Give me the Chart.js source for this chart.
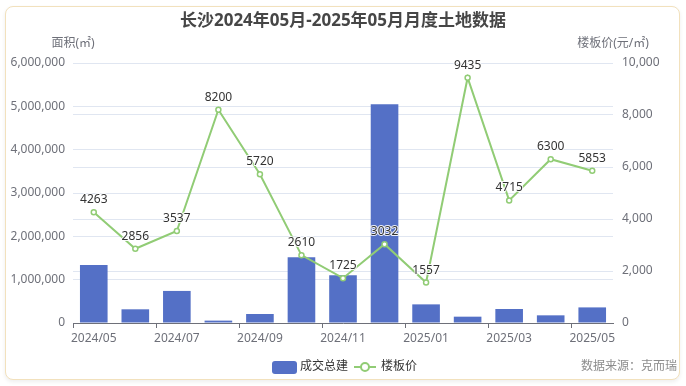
<!DOCTYPE html>
<html>
<head>
<meta charset="utf-8">
<script src="https://cdn.jsdelivr.net/npm/chart.js@4/dist/chart.umd.min.js"></script>
<style>
  html, body { margin: 0; padding: 0; background: #ffffff; }
  #wrap { position: relative; width: 686px; height: 386px; overflow: hidden; }
  #card { position: absolute; left: 5px; top: 6px; width: 673px; height: 372px;
          border: 1px solid #f2e1bd; border-radius: 8px; background: #fff;
          box-shadow: 0 2px 4px rgba(0,0,0,0.07); }
  #c { position: absolute; left: 0; top: 0; }
</style>
</head>
<body>
<div id="wrap">
  <div id="card"></div>
  <canvas id="c" width="686" height="386"></canvas>
</div>
<script>
const titleText = '长沙2024年05月-2025年05月月度土地数据';
const categories = ['2024/05','2024/06','2024/07','2024/08','2024/09','2024/10','2024/11','2024/12','2025/01','2025/02','2025/03','2025/04','2025/05'];
const areaValues = [1340000, 316000, 740000, 55000, 208000, 1516000, 1100000, 5047000, 430000, 146000, 323000, 177000, 360000];
const priceValues = [4263, 2856, 3537, 8200, 5720, 2610, 1725, 3032, 1557, 9435, 4715, 6300, 5853];
const seriesNames = ['成交总建', '楼板价'];
const leftAxisName = '面积(㎡)';
const rightAxisName = '楼板价(元/㎡)';
const sourceText = '数据来源：克而瑞';

const FONT = '"Noto Sans", "Noto Sans CJK SC", sans-serif';
const AXIS_COLOR = '#6E7079';
const GRID_COLOR = '#E0E6F1';
const BAR_COLOR = '#5470c6';
const LINE_COLOR = '#91cc75';

const decorPlugin = {
  id: 'decor',
  afterDatasetsDraw(chart) {
    const ctx = chart.ctx;
    // point value labels
    const lineIdx = 1;
    const meta = chart.getDatasetMeta(lineIdx);
    const data = chart.data.datasets[lineIdx].data;
    ctx.save();
    ctx.font = '12px ' + FONT;
    ctx.textAlign = 'center';
    ctx.textBaseline = 'alphabetic';
    ctx.lineJoin = 'round';
    meta.data.forEach((pt, i) => {
      const t = String(data[i]);
      ctx.strokeStyle = 'rgba(255,255,255,0.9)';
      ctx.lineWidth = 2;
      ctx.strokeText(t, pt.x, pt.y - 9);
      ctx.fillStyle = '#333';
      ctx.fillText(t, pt.x, pt.y - 9);
    });
    ctx.restore();
  },
  afterDraw(chart) {
    const ctx = chart.ctx;
    const xs = chart.scales.x, yl = chart.scales.y, yr = chart.scales.y1;
    ctx.save();
    // title
    ctx.font = 'bold 17px ' + FONT;
    ctx.fillStyle = '#464646';
    ctx.textAlign = 'center';
    ctx.textBaseline = 'middle';
    ctx.fillText(titleText, 343, 21);
    // axis names
    ctx.font = '12px ' + FONT;
    ctx.fillStyle = AXIS_COLOR;
    ctx.fillText(leftAxisName, xs.left, 44);
    ctx.fillText(rightAxisName, xs.right, 44);
    // legend
    const ds = chart.data.datasets;
    const ly = 367;
    ctx.fillStyle = ds[0].backgroundColor;
    ctx.beginPath();
    ctx.roundRect(272, 361, 25, 13, 3);
    ctx.fill();
    ctx.fillStyle = '#333';
    ctx.textAlign = 'left';
    ctx.fillText(ds[0].label, 300, ly);
    ctx.strokeStyle = ds[1].borderColor;
    ctx.lineWidth = 2;
    ctx.beginPath();
    ctx.moveTo(354, ly); ctx.lineTo(376, ly); ctx.stroke();
    ctx.beginPath();
    ctx.arc(365, ly, 4, 0, Math.PI * 2);
    ctx.fillStyle = '#fff';
    ctx.fill();
    ctx.stroke();
    ctx.fillStyle = '#333';
    ctx.fillText(ds[1].label, 381, ly);
    // source
    ctx.fillStyle = '#8c8c8c';
    ctx.textAlign = 'right';
    ctx.fillText(sourceText, 677, ly);
    ctx.restore();
  }
};

new Chart(document.getElementById('c'), {
  data: {
    labels: categories,
    datasets: [
      {
        type: 'bar', label: seriesNames[0], data: areaValues, yAxisID: 'y',
        backgroundColor: BAR_COLOR, borderWidth: 0,
        categoryPercentage: 1.0, barPercentage: 0.665, order: 2
      },
      {
        type: 'line', label: seriesNames[1], data: priceValues, yAxisID: 'y1',
        borderColor: LINE_COLOR, borderWidth: 2, tension: 0,
        pointRadius: 2.5, pointBorderWidth: 1.5, pointBackgroundColor: '#fff',
        pointBorderColor: LINE_COLOR, pointHoverRadius: 2.5, order: 1
      }
    ]
  },
  options: {
    responsive: false,
    animation: false,
    devicePixelRatio: 1,
    layout: { padding: { top: 63, bottom: 39, left: 0, right: 0 } },
    plugins: { legend: { display: false }, title: { display: false }, tooltip: { enabled: false } },
    scales: {
      x: {
        type: 'category', offset: true,
        grid: {
          offset: true, drawOnChartArea: false, drawTicks: true, tickLength: 5,
          tickColor: (c) => (c.index !== undefined && c.index % 2 === 0) ? AXIS_COLOR : 'rgba(0,0,0,0)'
        },
        border: { display: true, color: AXIS_COLOR, width: 1 },
        ticks: {
          autoSkip: false, maxRotation: 0, minRotation: 0, padding: 3,
          color: AXIS_COLOR, font: { family: FONT, size: 12 },
          callback: (v, i) => (i % 2 === 0 ? categories[i] : '')
        },
        afterFit: (s) => { s.height = 24; }
      },
      y: {
        type: 'linear', position: 'left', min: 0, max: 6000000,
        grid: { color: GRID_COLOR, drawTicks: false, lineWidth: 1 },
        border: { display: false },
        ticks: {
          stepSize: 1000000, padding: 8, color: AXIS_COLOR, font: { family: FONT, size: 12 },
          callback: (v) => Number(v).toLocaleString('en-US')
        },
        afterFit: (s) => { s.width = 73; }
      },
      y1: {
        type: 'linear', position: 'right', min: 0, max: 10000,
        grid: { color: GRID_COLOR, drawTicks: false, lineWidth: 1 },
        border: { display: false },
        ticks: {
          stepSize: 2000, padding: 9, color: AXIS_COLOR, font: { family: FONT, size: 12 },
          callback: (v) => Number(v).toLocaleString('en-US')
        },
        afterFit: (s) => { s.width = 73; }
      }
    }
  },
  plugins: [decorPlugin]
});
</script>
</body>
</html>
